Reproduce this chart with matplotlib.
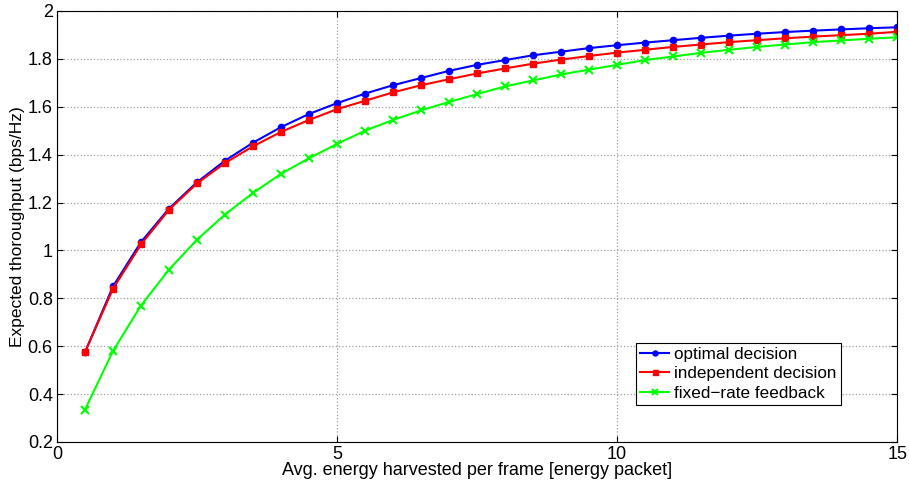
import matplotlib.pyplot as plt
import numpy as np

# average harvested energy per frame (x axis)
energy = np.arange(1, 31) * 0.5

# expected throughput for each scheme
optimal = [0.575, 0.85, 1.035, 1.175, 1.285, 1.375, 1.45, 1.515, 1.57, 1.615,
           1.655, 1.69, 1.72, 1.75, 1.775, 1.795, 1.815, 1.83, 1.845, 1.857,
           1.868, 1.878, 1.888, 1.897, 1.905, 1.912, 1.918, 1.923, 1.928, 1.932]
independent = [0.575, 0.84, 1.025, 1.17, 1.28, 1.365, 1.435, 1.495, 1.545, 1.59,
               1.625, 1.66, 1.69, 1.715, 1.739, 1.76, 1.78, 1.797, 1.812, 1.826,
               1.838, 1.85, 1.86, 1.87, 1.878, 1.886, 1.893, 1.899, 1.905, 1.913]
fixed_rate = [0.335, 0.58, 0.77, 0.92, 1.045, 1.15, 1.24, 1.32, 1.385, 1.445,
              1.5, 1.545, 1.585, 1.62, 1.653, 1.685, 1.71, 1.735, 1.755, 1.775,
              1.795, 1.81, 1.825, 1.838, 1.85, 1.86, 1.87, 1.877, 1.884, 1.89]

plt.rcParams['font.family'] = ['Liberation Sans', 'DejaVu Sans']

fig = plt.figure(figsize=(9.09, 4.84), dpi=100)
ax = fig.add_axes([0.0627, 0.0868, 0.9243, 0.8905])

ax.plot(energy, optimal, color='#0000ff', marker='o', markersize=4.5, linewidth=1.5,
        label='optimal decision')
ax.plot(energy, independent, color='#ff0000', marker='s', markersize=4.5, linewidth=1.5,
        label='independent decision')
ax.plot(energy, fixed_rate, color='#00ff00', marker='x', markersize=6, markeredgewidth=1.5,
        linewidth=1.5, label='fixed\u2212rate feedback')

ax.set_xlim(0, 15)
ax.set_ylim(0.2, 2)
ax.set_xticks([0, 5, 10, 15])
ax.set_yticks(np.arange(0.2, 2.01, 0.2))
ax.set_yticklabels(['0.2', '0.4', '0.6', '0.8', '1', '1.2', '1.4', '1.6', '1.8', '2'])
ax.tick_params(direction='in', labelsize=13, top=True, right=True, length=4, pad=3)
ax.grid(True, linestyle=':', color='#a0a0a0', linewidth=0.9)
for s in ax.spines.values():
    s.set_linewidth(0.8)

ax.set_xlabel('Avg. energy harvested per frame [energy packet]', fontsize=13, labelpad=-1)
ax.set_ylabel('Expected thoroughput (bps/Hz)', fontsize=12.5, labelpad=2)

leg = ax.legend(loc='lower right', bbox_to_anchor=(0.933, 0.086), fontsize=12.3,
                fancybox=False, framealpha=1, edgecolor='black', handlelength=1.7,
                handletextpad=0.3, borderpad=0.25, labelspacing=0.25, markerscale=0.8,
                borderaxespad=0)
leg.get_frame().set_linewidth(0.8)

fig.savefig('out.png', dpi=100)
